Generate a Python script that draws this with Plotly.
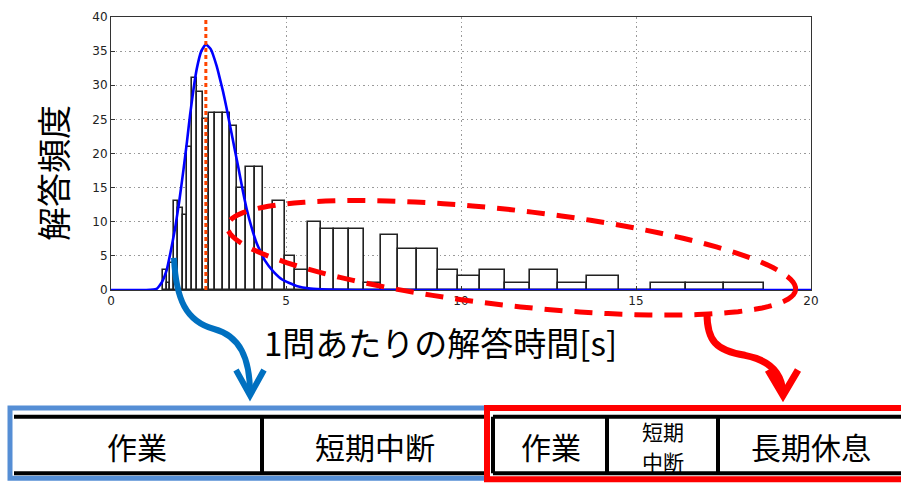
import plotly.graph_objects as go
import math

# ---------------- data ----------------
bin_edges = [1.477, 1.591, 1.686, 1.800, 1.923, 2.049, 2.180, 2.323, 2.466, 2.637,
             2.800, 2.971, 3.191, 3.400, 3.614, 3.843, 4.100, 4.351, 4.637, 4.971,
             5.270, 5.620, 5.990, 6.380, 6.800, 7.240, 7.710, 8.210, 8.730, 9.330,
             9.920, 10.540, 11.260, 11.970, 12.780, 13.590, 14.510, 15.420, 16.430,
             17.510, 18.670]
counts = [3, 1, 4, 13, 12, 11, 21, 31, 29, 25, 26, 26, 26, 24, 15, 18, 18, 12, 13, 5,
          3, 10, 9, 9, 9, 1, 8, 6, 6, 3, 2, 3, 1, 3, 1, 2, 0, 1, 1, 1]

fit_x = [0, 1.0, 1.3, 1.45, 1.59, 1.7, 1.83, 1.95, 2.07, 2.17, 2.26, 2.36, 2.45, 2.58,
         2.71, 2.85, 3.02, 3.1, 3.2, 3.3, 3.4, 3.52, 3.64, 3.76, 3.88, 4.02, 4.16, 4.4,
         4.64, 4.9, 5.3, 5.7, 6.2, 7, 20]
fit_y = [0, 0, 0.15, 1.1, 2.9, 5.5, 9, 13, 17.6, 21.7, 25.7, 29.5, 32.4, 35, 36, 35.3,
         32.8, 31.2, 29.1, 26.7, 24.1, 21.0, 17.9, 14.7, 11.8, 9.1, 6.9, 4.3,
         2.7, 1.5, 0.6, 0.2, 0.05, 0, 0]

peak_x = 2.71

x_ticks = [0, 5, 10, 15, 20]
y_ticks = [0, 5, 10, 15, 20, 25, 30, 35, 40]

x_title = "1問あたりの解答時間[s]"
y_title = "解答頻度"
blue_labels = ["作業", "短期中断"]
red_labels = ["作業", "長期休息"]
red_small = ["短期", "中断"]

# ---------------- figure ----------------
W, H = 901, 486
L, R, T, B = 111, 811, 10, 290  # plot area in pixels


def px(p):
    return (p - L) / (R - L)


def py(p):
    return (B - p) / (B - T)


def path_from(cmds):
    out = []
    for c in cmds:
        if isinstance(c, str):
            out.append(c)
        else:
            out.append(f"{px(c[0]):.5f},{py(c[1]):.5f}")
    return " ".join(out)


centers = [(a + b) / 2 for a, b in zip(bin_edges[:-1], bin_edges[1:])]
widths = [b - a for a, b in zip(bin_edges[:-1], bin_edges[1:])]

fig = go.Figure()
fig.add_trace(go.Bar(x=centers, y=counts, width=widths,
                     marker=dict(color="white", line=dict(color="#222222", width=1.6)),
                     hoverinfo="skip"))
fig.add_trace(go.Scatter(x=fit_x, y=fit_y, mode="lines",
                         line=dict(color="#0000FF", width=2.6, shape="spline", smoothing=0.4)))
fig.add_trace(go.Scatter(x=[peak_x, peak_x], y=[0, 40], mode="lines",
                         line=dict(color="#FF4500", width=3, dash="4px,3px")))

shapes = []

# red dashed ellipse (decoration), pixel space
cx, cy, a, b, th = 511.5, 257.0, 286.0, 49.0, math.radians(6.6)
pts = []
for i in range(121):
    t = 2 * math.pi * i / 120
    u, v = a * math.cos(t), b * math.sin(t)
    pts.append((cx + u * math.cos(th) - v * math.sin(th), cy + u * math.sin(th) + v * math.cos(th)))
ell = "M " + " L ".join(f"{px(x):.5f},{py(y):.5f}" for x, y in pts)
shapes.append(dict(type="path", xref="paper", yref="paper", path=ell,
                   line=dict(color="#FF0000", width=5, dash="18px,12px"), layer="above"))

# blue curved arrow
shapes.append(dict(type="path", xref="paper", yref="paper",
                   path=path_from(["M", (174, 257), "C", (176, 300), (186, 322), (214, 330),
                                   "C", (240, 337), (250, 360), (250, 396)]),
                   line=dict(color="#0070C0", width=6), layer="above"))
shapes.append(dict(type="path", xref="paper", yref="paper",
                   path=path_from(["M", (236, 372), "L", (250, 398), "L", (264, 372)]),
                   line=dict(color="#0070C0", width=6), layer="above"))
# red curved arrow
shapes.append(dict(type="path", xref="paper", yref="paper",
                   path=path_from(["M", (707, 314), "C", (707, 342), (716, 352), (745, 357),
                                   "C", (770, 362), (782, 375), (783, 396)]),
                   line=dict(color="#FF0000", width=7), layer="above"))
shapes.append(dict(type="path", xref="paper", yref="paper",
                   path=path_from(["M", (768, 372), "L", (783, 398), "L", (798, 372)]),
                   line=dict(color="#FF0000", width=7), layer="above"))

# blue box
shapes.append(dict(type="rect", xref="paper", yref="paper", x0=px(10), x1=px(492), y0=py(483), y1=py(411),
                   line=dict(color="#558ED5", width=5), fillcolor="white", layer="above"))
for (x0, y0, x1, y1) in [(14, 420, 492, 420), (14, 478, 492, 478), (262, 420, 262, 478)]:
    shapes.append(dict(type="line", xref="paper", yref="paper", x0=px(x0), y0=py(y0), x1=px(x1), y1=py(y1),
                       line=dict(color="black", width=4), layer="above"))
# red box
shapes.append(dict(type="rect", xref="paper", yref="paper", x0=px(487), x1=px(910), y0=py(484), y1=py(411),
                   line=dict(color="#FF0000", width=6), fillcolor="white", layer="above"))
for (x0, y0, x1, y1) in [(493, 420, 905, 420), (493, 478, 905, 478), (493, 420, 493, 478),
                         (607, 420, 607, 478), (718, 420, 718, 478)]:
    shapes.append(dict(type="line", xref="paper", yref="paper", x0=px(x0), y0=py(y0), x1=px(x1), y1=py(y1),
                       line=dict(color="black", width=4), layer="above"))

jp = "Noto Sans CJK JP"
ann = []
ann.append(dict(xref="paper", yref="paper", x=px(440), y=py(343), text=x_title, showarrow=False,
                font=dict(family=jp, size=33, color="black"), xanchor="center", yanchor="middle"))
ann.append(dict(xref="paper", yref="paper", x=px(52), y=py(170), text=y_title, showarrow=False, textangle=-90,
                font=dict(family=jp, size=34, color="black"), xanchor="center", yanchor="middle"))
for txt, xc in zip(blue_labels, [137, 375]):
    ann.append(dict(xref="paper", yref="paper", x=px(xc), y=py(450), text=txt, showarrow=False,
                    font=dict(family=jp, size=30, color="black"), xanchor="center", yanchor="middle"))
for txt, xc in zip(red_labels, [551, 811]):
    ann.append(dict(xref="paper", yref="paper", x=px(xc), y=py(450), text=txt, showarrow=False,
                    font=dict(family=jp, size=30, color="black"), xanchor="center", yanchor="middle"))
for txt, yc in zip(red_small, [435, 465]):
    ann.append(dict(xref="paper", yref="paper", x=px(663), y=py(yc), text=txt, showarrow=False,
                    font=dict(family=jp, size=21, color="black"), xanchor="center", yanchor="middle"))

axis_common = dict(showline=True, linecolor="#333333", linewidth=1, mirror=True,
                   showgrid=True, gridcolor="#999999", griddash="1.5px,3px", gridwidth=1,
                   zeroline=False, ticks="inside", ticklen=4, tickcolor="#333333",
                   tickfont=dict(family="DejaVu Sans", size=12, color="#222222"))

fig.update_layout(
    width=W, height=H, margin=dict(l=L, r=W - R, t=T, b=H - B),
    paper_bgcolor="white", plot_bgcolor="white", showlegend=False,
    xaxis=dict(range=[0, 20], tickvals=x_ticks, ticktext=[str(v) for v in x_ticks], **axis_common),
    yaxis=dict(range=[0, 40], tickvals=y_ticks, ticktext=[str(v) for v in y_ticks], **axis_common),
    shapes=shapes, annotations=ann, bargap=0,
)

fig.write_html("out.html", config={"displayModeBar": False},
               post_script="document.body.style.margin='0px';document.body.style.overflow='hidden';")
